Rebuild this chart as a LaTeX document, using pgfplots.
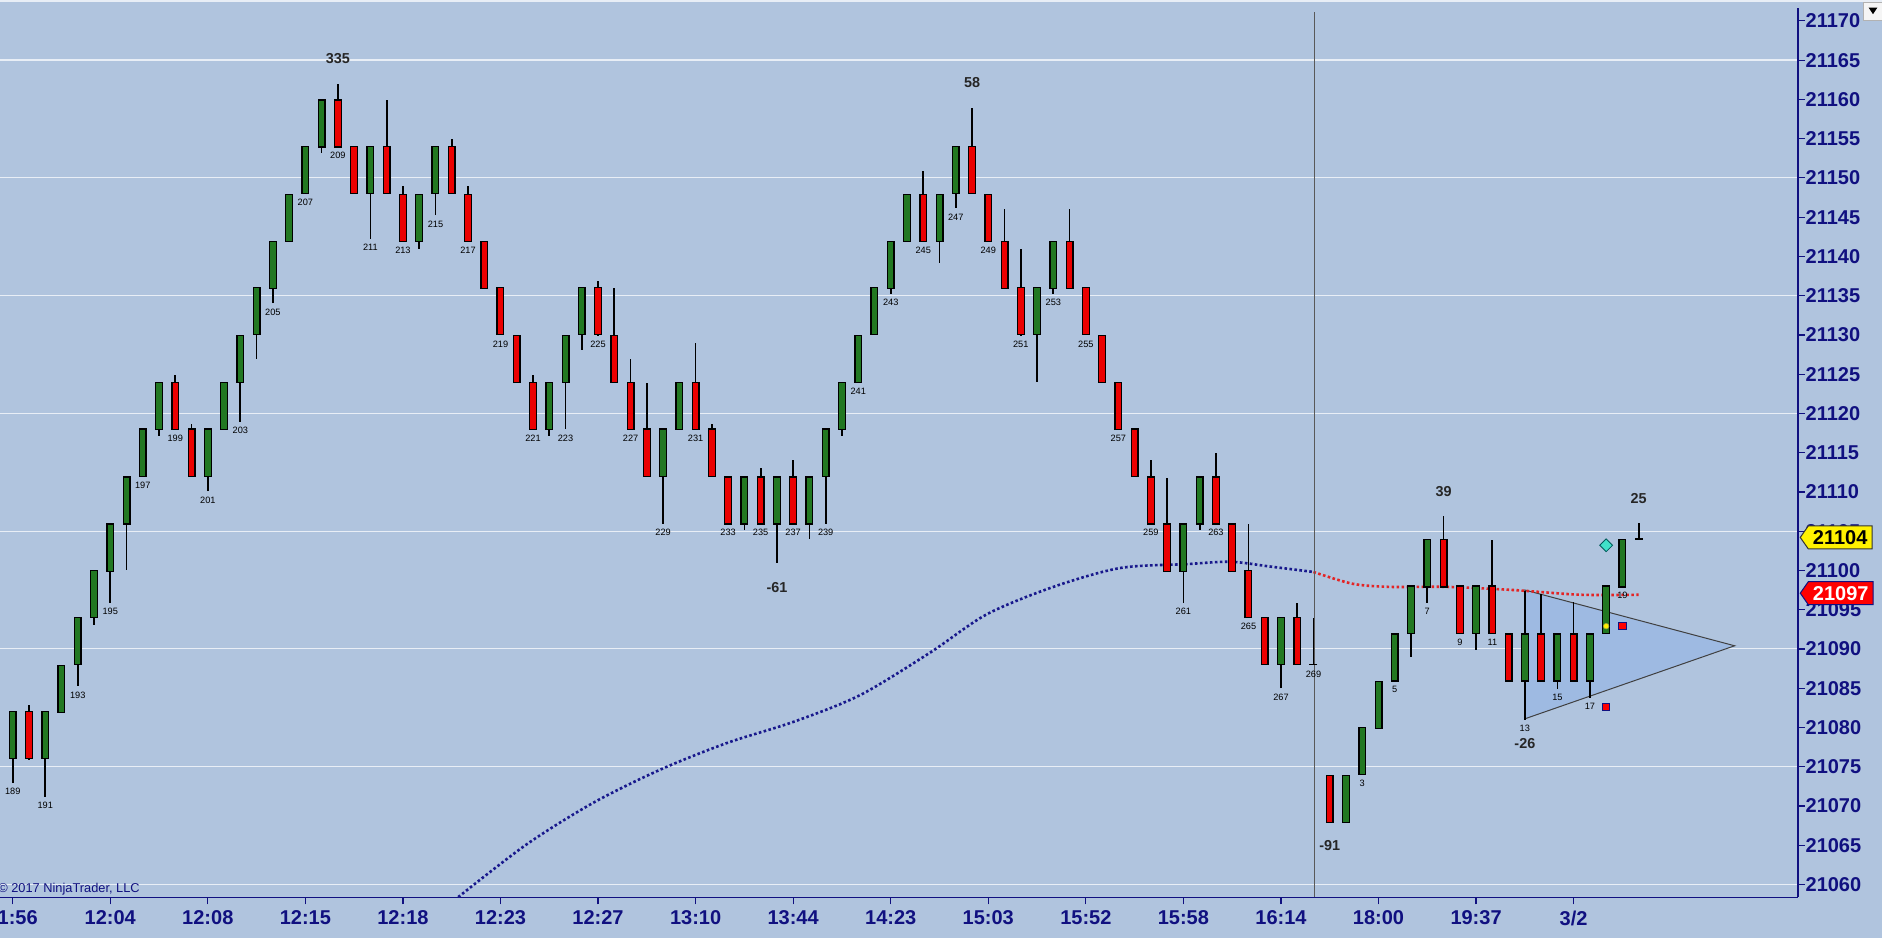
\documentclass[border=0pt]{standalone}
\usepackage{fontspec}
\setmainfont{Liberation Sans}
\usepackage{pgfplots}
\usepackage{pgfplotstable}
\pgfplotsset{compat=1.18}
\usetikzlibrary{shapes.symbols}

\definecolor{chartbg}{RGB}{176,196,222}
\definecolor{axisnavy}{RGB}{16,16,128}
\definecolor{candlegreen}{RGB}{34,120,34}
\definecolor{candlered}{RGB}{235,0,0}
\definecolor{gridwhite}{RGB}{232,238,246}
\definecolor{madots}{RGB}{24,24,140}
\definecolor{redots}{RGB}{228,36,36}
\definecolor{triblue}{RGB}{158,186,226}
\definecolor{turq}{RGB}{64,224,200}
\pagecolor{chartbg}

% x = bar index (189 -> 0 ... 269 -> 80, new session 1 -> 81 ... 20 -> 100)
% o h l c = open high low close, n = bar number printed under the bar
\pgfplotstableread{
x o h l c n
0 21076 21082 21073.1 21082 189
2 21076 21082 21071.2 21082 191
3 21082 21088 21082 21088 {}
4 21088 21094 21085.3 21094 193
5 21094 21100 21093.1 21100 {}
6 21100 21106 21096 21106 195
7 21106 21112 21100.2 21112 {}
8 21112 21118 21112 21118 197
9 21118 21124 21117.2 21124 {}
12 21112 21118 21110.1 21118 201
13 21118 21124 21118 21124 {}
14 21124 21130 21119 21130 203
15 21130 21136 21127 21136 {}
16 21136 21142 21134 21142 205
17 21142 21148 21142 21148 {}
18 21148 21154 21148 21154 207
19 21154 21160 21153.2 21160 {}
22 21148 21154 21142.3 21154 211
25 21142 21148 21141.1 21148 {}
26 21148 21154 21145.2 21154 215
33 21118 21124 21117.2 21124 {}
34 21124 21130 21118 21130 223
35 21130 21136 21128.2 21136 {}
40 21112 21118 21106 21118 229
41 21118 21124 21118 21124 {}
45 21106 21112 21105.1 21112 {}
47 21106 21112 21101 21112 {}
49 21106 21112 21104.1 21112 {}
50 21112 21118 21106 21118 239
51 21118 21124 21117.2 21124 {}
52 21124 21130 21124 21130 241
53 21130 21136 21130 21136 {}
54 21136 21142 21135.3 21142 243
55 21142 21148 21142 21148 {}
57 21142 21148 21139.2 21148 {}
58 21148 21154 21146.2 21154 247
63 21130 21136 21124.1 21136 {}
64 21136 21142 21135.3 21142 253
72 21100 21106 21096 21106 261
73 21106 21112 21105.1 21112 {}
78 21088 21094 21085 21094 267
82 21068 21074 21068 21074 {}
83 21074 21080 21074 21080 3
84 21080 21086 21080 21086 {}
85 21086 21092 21086 21092 5
86 21092 21098 21089.1 21098 {}
87 21098 21104 21096 21104 7
90 21092 21098 21090 21098 {}
93 21086 21097.5 21081.1 21092 13
95 21086 21092 21085 21092 15
97 21086 21092 21083.8 21092 17
98 21092 21098 21092 21098 {}
99 21098 21104 21098 21104 19
}\greenbars

\pgfplotstableread{
x o h l c n
1 21082 21083 21076 21076 {}
10 21124 21124.9 21118 21118 199
11 21118 21118.8 21112 21112 {}
20 21160 21162 21154 21154 209
21 21154 21154 21148 21148 {}
23 21154 21160 21148 21148 {}
24 21148 21149 21142 21142 213
27 21154 21155 21148 21148 {}
28 21148 21149 21142 21142 217
29 21142 21142 21136 21136 {}
30 21136 21136 21130 21130 219
31 21130 21130 21124 21124 {}
32 21124 21124.9 21118 21118 221
36 21136 21137 21130 21130 225
37 21130 21136 21124 21124 {}
38 21124 21127 21118 21118 227
39 21118 21124 21112 21112 {}
42 21124 21129 21118 21118 231
43 21118 21118.8 21112 21112 {}
44 21112 21112 21106 21106 233
46 21112 21113 21106 21106 235
48 21112 21114 21106 21106 237
56 21148 21151 21142 21142 245
59 21154 21158.9 21148 21148 {}
60 21148 21148 21142 21142 249
61 21142 21146.1 21136 21136 {}
62 21136 21141 21130 21130 251
65 21142 21146.1 21136 21136 {}
66 21136 21136 21130 21130 255
67 21130 21130 21124 21124 {}
68 21124 21124 21118 21118 257
69 21118 21118 21112 21112 {}
70 21112 21114 21106 21106 259
71 21106 21111.9 21100 21100 {}
74 21112 21115 21106 21106 263
75 21106 21106 21100 21100 {}
76 21100 21106 21094 21094 265
77 21094 21094 21088 21088 {}
79 21094 21096 21088 21088 {}
81 21074 21074 21068 21068 {}
88 21104 21107 21098 21098 {}
89 21098 21098 21092 21092 9
91 21098 21104 21092 21092 11
92 21092 21092 21086 21086 {}
94 21092 21097 21086 21086 {}
96 21092 21096 21086 21086 {}
}\redbars

\pgfplotstableread{
x o h l c n
80 21088 21094 21088 21088 269
100 21104 21106.2 21104 21104 {}
}\dojibars

\pgfplotstableread{
x y t
20 21165.2 335
47 21097.8 -61
59 21162.1 58
81 21064.9 -91
88 21110.1 39
93 21077.9 -26
100 21109.2 25
}\swings

\pgfplotsset{
  wick/.style={draw=none, mark=none, forget plot,
    error bars/.cd, y dir=both, y explicit, error mark=none,
    error bar style={draw=black, solid, line width=0.85pt}},
  body/.style 2 args={draw=none, mark=none, forget plot,
    error bars/.cd, y dir=both, y explicit, error mark=none,
    error bar style={draw=#1, solid, line width=#2}},
  textpts/.style={only marks, mark=*, mark size=0pt,
    mark options={draw=none, fill=none}, forget plot,
    nodes near coords, point meta=explicit symbolic},
  barlab/.style={textpts, every node near coord/.append style={
    font=\fontsize{4.6}{5}\selectfont, text=black, inner sep=0pt,
    anchor=north, yshift=-2.8pt}},
}

\begin{document}
\begin{tikzpicture}
\begin{axis}[
  set layers,
  at={(0pt,20.35pt)}, anchor=south west,
  scale only axis, width=899pt, height=444.5pt,
  clip=false,
  xmin=-0.781, xmax=109.8,
  ymin=21058.37, ymax=21171.58,
  axis x line*=bottom, axis y line*=right,
  axis line style={axisnavy, line width=0.7pt},
  tick style={axisnavy, line width=0.6pt},
  tick align=outside, major tick length=3.6pt,
  xtick={0,6,...,96},
  xticklabels={11:56,12:04,12:08,12:15,12:18,12:23,12:27,13:10,13:44,14:23,15:03,15:52,15:58,16:14,18:00,19:37,3/2},
  xticklabel style={font=\bfseries\fontsize{10}{12}\selectfont, text=axisnavy, inner sep=0pt, anchor=north, yshift=-3pt},
  ytick={21060,21065,...,21170},
  scaled y ticks=false,
  /pgf/number format/assume math mode=true,
  yticklabel style={font=\bfseries\fontsize{10}{12}\selectfont, text=axisnavy, inner sep=0pt, anchor=west,
    /pgf/number format/fixed, /pgf/number format/precision=0, /pgf/number format/1000 sep={}},
  extra y ticks={21060,21075,...,21165},
  extra y tick labels={},
  extra y tick style={grid=major, major tick length=0pt},
  major grid style={gridwhite, line width=0.55pt},
]

% triangle pattern
\addplot[fill=triblue, draw=black!75, line width=0.5pt, forget plot]
  coordinates {(93,21097.5) (105.9,21090.4) (93,21081.1)} -- cycle;

% moving average, dotted
\addplot[madots, line width=1.3pt, dash pattern=on 1.3pt off 1.2pt, smooth, forget plot] coordinates {
  (27.4,21058.4) (31.6,21065.1) (35.7,21070.4) (39.8,21074.6) (43.9,21078.0)
  (48.0,21080.7) (52.1,21084.1) (56.4,21089.5) (59.9,21094.4) (64.0,21097.9)
  (68.1,21100.3) (72.2,21100.8) (74.9,21101.1) (77.3,21100.5) (80.0,21099.8)};
\addplot[redots, line width=1.3pt, dash pattern=on 1.3pt off 1.2pt, smooth, forget plot] coordinates {
  (80.0,21099.8) (82.4,21098.3) (84.7,21097.9) (88.2,21097.9) (92.3,21097.5)
  (96.4,21096.9) (100.0,21096.9)};

% session separator
\addplot[gray!70!black, line width=0.6pt, forget plot] coordinates {(80.05,21171.1) (80.05,21058.37)};

% wicks
\addplot[wick] table[x=x, y expr={(\thisrow{h}+\thisrow{l})/2}, y error expr={(\thisrow{h}-\thisrow{l})/2}] {\greenbars};
\addplot[wick] table[x=x, y expr={(\thisrow{h}+\thisrow{l})/2}, y error expr={(\thisrow{h}-\thisrow{l})/2}] {\redbars};
\addplot[wick] table[x=x, y expr={(\thisrow{h}+\thisrow{l})/2}, y error expr={(\thisrow{h}-\thisrow{l})/2}] {\dojibars};

% bodies: black outline then colour
\addplot[body={black}{4pt}] table[x=x, y expr={(\thisrow{o}+\thisrow{c})/2}, y error expr={abs(\thisrow{c}-\thisrow{o})/2+0.08}] {\greenbars};
\addplot[body={candlegreen}{2.7pt}] table[x=x, y expr={(\thisrow{o}+\thisrow{c})/2}, y error expr={abs(\thisrow{c}-\thisrow{o})/2-0.08}] {\greenbars};
\addplot[body={black}{4pt}] table[x=x, y expr={(\thisrow{o}+\thisrow{c})/2}, y error expr={abs(\thisrow{c}-\thisrow{o})/2+0.08}] {\redbars};
\addplot[body={candlered}{2.7pt}] table[x=x, y expr={(\thisrow{o}+\thisrow{c})/2}, y error expr={abs(\thisrow{c}-\thisrow{o})/2-0.08}] {\redbars};
\addplot[only marks, mark=-, mark size=2pt, mark options={draw=black, line width=0.85pt}, forget plot]
  table[x=x, y=o] {\dojibars};

% bar numbers
\addplot[barlab] table[x=x, y=l, meta=n] {\greenbars};
\addplot[barlab] table[x=x, y=l, meta=n] {\redbars};
\addplot[barlab] table[x=x, y=l, meta=n] {\dojibars};

% swing sizes
\addplot[textpts, every node near coord/.append style={font=\bfseries\fontsize{7.2}{8}\selectfont,
  text=black!85, inner sep=0pt, anchor=center}] table[x=x, y=y, meta=t] {\swings};

% signal markers
\addplot[only marks, mark=diamond*, mark size=3.2pt, mark options={xscale=1.33, fill=turq, draw=teal!70!black, line width=0.4pt}, forget plot]
  coordinates {(98,21103.2)};
\addplot[only marks, mark=*, mark size=1.4pt, mark options={fill=yellow, draw=yellow!60!black, line width=0.3pt}, forget plot]
  coordinates {(98,21092.9)};
\addplot[only marks, mark=square*, mark size=1.8pt, mark options={fill=red, draw=axisnavy, line width=0.4pt}, forget plot]
  coordinates {(99,21092.9) (98,21082.6)};

% price tags on the right
\addplot[textpts, every node near coord/.append style={shape=signal, signal to=west, signal pointer angle=110,
  fill=yellow, draw=black!80, line width=0.5pt, text=black, font=\bfseries\fontsize{10}{12}\selectfont,
  anchor=west, minimum height=11.5pt, inner xsep=2.3pt, inner ysep=0pt}]
  coordinates {(109.9,21104.2) [21104]};
\addplot[textpts, every node near coord/.append style={shape=signal, signal to=west, signal pointer angle=110,
  fill=red, draw=axisnavy, line width=0.5pt, text=white, font=\bfseries\fontsize{10}{12}\selectfont,
  anchor=west, minimum height=11.5pt, inner xsep=2.3pt, inner ysep=0pt}]
  coordinates {(109.9,21097.1) [21097]};
\end{axis}
\pgfresetboundingbox
\useasboundingbox (0,0) rectangle (941pt,469pt);
\draw[gridwhite, line width=1pt] (0,468.6pt) -- (941pt,468.6pt);
\node[anchor=west, inner sep=0pt, text=axisnavy, font=\fontsize{6.4}{7}\selectfont] at (-1pt,24.3pt) {© 2017 NinjaTrader, LLC};
\filldraw[fill=gray!8, draw=gray!60, line width=0.4pt] (931.5pt,459pt) rectangle (941pt,467.6pt);
\fill[black] (934.3pt,465.2pt) -- (938.7pt,465.2pt) -- (936.5pt,461.9pt) -- cycle;
\end{tikzpicture}
\end{document}
